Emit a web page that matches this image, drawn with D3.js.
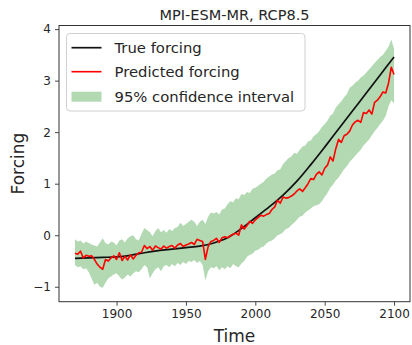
<!DOCTYPE html>
<html>
<head>
<meta charset="utf-8">
<script src="https://cdn.jsdelivr.net/npm/d3@7"></script>
<style>
body { margin: 0; background: #fff; }
svg { display: block; font-family: "DejaVu Sans", sans-serif; }
</style>
</head>
<body>
<div id="container"></div>
<script>
const width = 412;
const height = 345;
const margin = {top: 25.5, right: 2, bottom: 43.3, left: 59};

//------------------DONNEES------------------//
const title = "MPI-ESM-MR, RCP8.5";
const xLabel = "Time";
const yLabel = "Forcing";
const legendLabels = ["True forcing", "Predicted forcing", "95% confidence interval"];
const xTicks = [1900, 1950, 2000, 2050, 2100];
const yTicks = [-1, 0, 1, 2, 3, 4];

// true forcing, every 10 years
const trueYears = [1870, 1880, 1890, 1900, 1910, 1920, 1930, 1940, 1950, 1960, 1970, 1980,
                   1990, 2000, 2010, 2020, 2030, 2040, 2050, 2060, 2070, 2080, 2090, 2100];
const trueForcing = [-0.45, -0.44, -0.43, -0.42, -0.39, -0.34, -0.30, -0.27, -0.24, -0.21, -0.15, -0.05,
                     0.13, 0.34, 0.55, 0.78, 1.05, 1.37, 1.71, 2.06, 2.41, 2.76, 3.11, 3.46];

// predicted forcing + interval, every 2 years from 1870 to 2100
const predYears = d3.range(1870, 2101, 2);
const predicted = [
  -0.35, -0.37, -0.31, -0.44, -0.39, -0.41, -0.40, -0.47, -0.56, -0.62,
  -0.66, -0.47, -0.50, -0.44, -0.40, -0.47, -0.34, -0.49, -0.41, -0.48,
  -0.38, -0.46, -0.39, -0.34, -0.33, -0.20, -0.26, -0.22, -0.29, -0.21,
  -0.24, -0.27, -0.21, -0.25, -0.22, -0.20, -0.25, -0.19, -0.16, -0.22,
  -0.19, -0.17, -0.14, -0.18, -0.08, -0.10, -0.12, -0.47, -0.22, -0.12,
  -0.10, -0.06, -0.14, -0.05, -0.03, -0.05, -0.01, 0.02, 0.04, 0.00,
  0.20, 0.12, 0.19, 0.27, 0.23, 0.30, 0.34, 0.39, 0.37, 0.40,
  0.42, 0.50, 0.55, 0.68, 0.62, 0.74, 0.72, 0.73, 0.76, 0.80,
  0.86, 0.90, 0.85, 0.92, 1.00, 1.10, 1.08, 1.18, 1.23, 1.17,
  1.30, 1.36, 1.52, 1.44, 1.68, 1.86, 1.80, 1.93, 1.96, 2.02,
  2.14, 2.20, 2.23, 2.19, 2.38, 2.36, 2.43, 2.35, 2.58, 2.62,
  2.69, 2.78, 2.76, 2.95, 3.26, 3.12
];
const upper = [
  -0.08, -0.12, -0.10, -0.16, -0.12, -0.15, -0.18, -0.20, -0.22, -0.14,
  -0.06, -0.15, -0.18, -0.12, -0.14, -0.20, -0.10, -0.08, -0.14, -0.06,
  -0.02, 0.00, -0.08, -0.10, 0.03, 0.14, 0.10, 0.06, -0.02, 0.08,
  0.14, 0.06, 0.10, 0.05, 0.12, 0.08, 0.14, 0.16, 0.24, 0.18,
  0.22, 0.26, 0.30, 0.26, 0.18, 0.26, 0.30, 0.22, 0.36, 0.44,
  0.42, 0.45, 0.40, 0.50, 0.52, 0.60, 0.66, 0.64, 0.72, 0.70,
  0.80, 0.78, 0.84, 0.82, 0.90, 0.92, 0.96, 1.00, 1.04, 1.10,
  1.14, 1.18, 1.20, 1.26, 1.28, 1.38, 1.44, 1.50, 1.53, 1.60,
  1.58, 1.66, 1.72, 1.74, 1.82, 1.84, 1.92, 1.96, 2.02, 2.10,
  2.16, 2.22, 2.32, 2.36, 2.48, 2.54, 2.60, 2.68, 2.74, 2.86,
  2.90, 2.96, 3.00, 3.06, 3.10, 3.16, 3.22, 3.28, 3.34, 3.40,
  3.46, 3.50, 3.58, 3.66, 3.80, 3.62
];
const lower = [
  -0.58, -0.62, -0.60, -0.66, -0.64, -0.72, -0.84, -0.96, -0.92, -1.00,
  -1.02, -0.92, -0.84, -0.80, -0.76, -0.74, -0.80, -0.86, -0.82, -0.76,
  -0.80, -0.74, -0.70, -0.72, -0.66, -0.58, -0.62, -0.84, -0.74, -0.66,
  -0.62, -0.70, -0.60, -0.58, -0.62, -0.56, -0.60, -0.54, -0.58, -0.52,
  -0.56, -0.50, -0.52, -0.48, -0.54, -0.50, -0.58, -0.88, -0.70, -0.62,
  -0.64, -0.60, -0.68, -0.62, -0.66, -0.60, -0.64, -0.56, -0.60, -0.62,
  -0.55, -0.50, -0.42, -0.38, -0.36, -0.30, -0.28, -0.24, -0.22, -0.16,
  -0.12, -0.10, -0.06, 0.00, 0.02, 0.06, 0.12, 0.14, 0.20, 0.24,
  0.30, 0.36, 0.38, 0.44, 0.48, 0.52, 0.56, 0.58, 0.60, 0.66,
  0.74, 0.82, 0.92, 0.98, 1.06, 1.12, 1.20, 1.28, 1.34, 1.42,
  1.48, 1.54, 1.60, 1.66, 1.74, 1.80, 1.86, 1.94, 2.02, 2.08,
  2.16, 2.22, 2.32, 2.50, 2.62, 2.56
];

const trueData = trueYears.map((y, i) => ({year: y, value: trueForcing[i]}));
const predData = predYears.map((y, i) => ({year: y, value: predicted[i], hi: upper[i], lo: lower[i]}));

//------------------SVG------------------//
const svg = d3.select("#container").append("svg")
  .attr("width", width)
  .attr("height", height);

//------------------ECHELLES------------------//
const xScale = d3.scaleLinear()
  .domain([1858.5, 2111.5])
  .range([margin.left, width - margin.right]);
const yScale = d3.scaleLinear()
  .domain([-1.29, 4.07])
  .range([height - margin.bottom, margin.top]);

//------------------BANDE------------------//
const area = d3.area()
  .x(d => xScale(d.year))
  .y0(d => yScale(d.lo))
  .y1(d => yScale(d.hi));

svg.append("path")
  .datum(predData)
  .attr("fill", "green")
  .attr("fill-opacity", 0.3)
  .attr("d", area);

//------------------LIGNES------------------//
const trueLine = d3.line()
  .curve(d3.curveMonotoneX)
  .x(d => xScale(d.year))
  .y(d => yScale(d.value));

const predLine = d3.line()
  .x(d => xScale(d.year))
  .y(d => yScale(d.value));

svg.append("path")
  .datum(trueData)
  .attr("fill", "none")
  .attr("stroke", "#111")
  .attr("stroke-width", 1.7)
  .attr("d", trueLine);

svg.append("path")
  .datum(predData)
  .attr("fill", "none")
  .attr("stroke", "red")
  .attr("stroke-width", 1.6)
  .attr("stroke-linejoin", "round")
  .attr("d", predLine);

//------------------AXES------------------//
const xaxis = d3.axisBottom(xScale)
  .tickValues(xTicks)
  .tickFormat(d3.format("d"))
  .tickSize(4)
  .tickPadding(4);

const yaxis = d3.axisLeft(yScale)
  .tickValues(yTicks)
  .tickFormat(d3.format("d"))
  .tickSize(4)
  .tickPadding(4);

const gx = svg.append("g")
  .attr("transform", "translate(0," + (height - margin.bottom) + ")")
  .call(xaxis);
const gy = svg.append("g")
  .attr("transform", "translate(" + margin.left + ",0)")
  .call(yaxis);

[gx, gy].forEach(g => {
  g.select(".domain").remove();
  g.selectAll(".tick line").attr("stroke", "#333").attr("stroke-width", 0.9);
  g.selectAll(".tick text")
    .attr("fill", "#262626")
    .style("font-size", "12px")
    .style("font-family", "DejaVu Sans");
});

// cadre
svg.append("rect")
  .attr("x", margin.left)
  .attr("y", margin.top)
  .attr("width", width - margin.left - margin.right)
  .attr("height", height - margin.top - margin.bottom)
  .attr("fill", "none")
  .attr("stroke", "#333")
  .attr("stroke-width", 1);

//------------------TEXTES------------------//
svg.append("text")
  .attr("x", (margin.left + width - margin.right) / 2)
  .attr("y", 20)
  .attr("text-anchor", "middle")
  .style("font-size", "14.5px")
  .attr("fill", "#262626")
  .text(title);

svg.append("text")
  .attr("x", (margin.left + width - margin.right) / 2)
  .attr("y", 342)
  .attr("text-anchor", "middle")
  .style("font-size", "17px")
  .attr("fill", "#262626")
  .text(xLabel);

svg.append("text")
  .attr("transform", "translate(24," + ((margin.top + height - margin.bottom) / 2) + ") rotate(-90)")
  .attr("text-anchor", "middle")
  .style("font-size", "17px")
  .attr("fill", "#262626")
  .text(yLabel);

//------------------LEGENDES------------------//
const legend = svg.append("g").attr("transform", "translate(66.5,33.5)");

legend.append("rect")
  .attr("width", 238.5)
  .attr("height", 77.5)
  .attr("rx", 3.5)
  .attr("fill", "#fff")
  .attr("fill-opacity", 0.8)
  .attr("stroke", "#d0d0d0")
  .attr("stroke-width", 1);

const rows = [14.2, 38.2, 63.2];

legend.append("line")
  .attr("x1", 5).attr("x2", 35)
  .attr("y1", rows[0]).attr("y2", rows[0])
  .attr("stroke", "#111").attr("stroke-width", 1.7);

legend.append("line")
  .attr("x1", 5).attr("x2", 35)
  .attr("y1", rows[1]).attr("y2", rows[1])
  .attr("stroke", "red").attr("stroke-width", 1.6);

legend.append("rect")
  .attr("x", 5).attr("y", rows[2] - 5)
  .attr("width", 30).attr("height", 10)
  .attr("fill", "green").attr("fill-opacity", 0.3);

legend.selectAll("legendlabels")
  .data(legendLabels)
  .enter()
  .append("text")
  .attr("x", 48)
  .attr("y", (d, i) => rows[i] + 5)
  .style("font-size", "14.8px")
  .attr("fill", "#262626")
  .text(d => d);
</script>
</body>
</html>
